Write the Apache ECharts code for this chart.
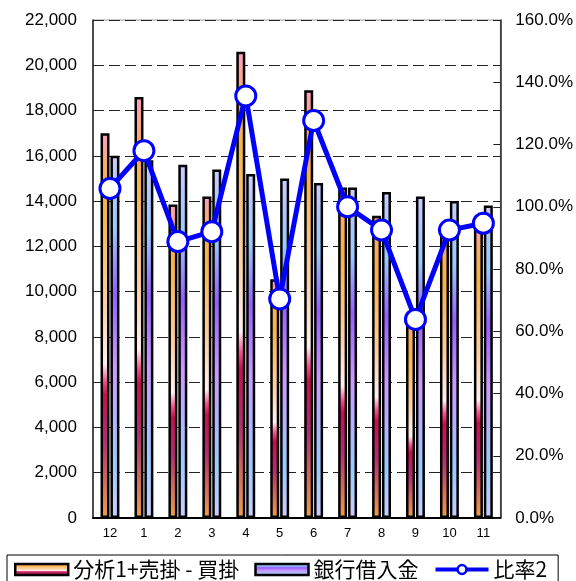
<!DOCTYPE html>
<html lang="ja">

<head>
	<meta charset="UTF-8" />
	<script src="https://cdn.jsdelivr.net/npm/echarts@6/dist/echarts.min.js"></script>
	<title>Chart</title>
	<style>
		html, body { margin: 0; padding: 0; background: #fff; }
		#main { width: 576px; height: 581px; }
	</style>
</head>

<body>
	<div id="main"></div>

	<script type="text/javascript">
		const months = ['12', '1', '2', '3', '4', '5', '6', '7', '8', '9', '10', '11'];
		const analysis = [17000, 18600, 13850, 14200, 20600, 10550, 18900, 14600, 13350, 9050, 12950, 13070];
		const bankLoans = [16000, 15800, 15600, 15400, 15200, 15000, 14800, 14600, 14400, 14200, 14000, 13800];
		const ratio = [105.9, 118.0, 88.8, 92.0, 135.6, 70.4, 127.7, 100.0, 92.5, 63.8, 92.5, 94.7];

		const latin = "'Liberation Sans', Arial, sans-serif";
		const cjk = "'Noto Sans CJK JP', sans-serif";

		const grad = stops => ({
			type: 'linear', x: 0, y: 0, x2: 0, y2: 1,
			colorStops: stops.map(s => ({ offset: s[0], color: s[1] })),
		});
		const orangeFill = grad([
			[0, '#ff9ec4'], [0.1, '#f9ad60'], [0.2, '#f8b24a'], [0.45, '#fdd0a4'],
			[0.6, '#fff0f0'], [0.645, '#f0508c'], [0.68, '#c4104e'], [0.8, '#b02e6e'],
			[0.9, '#d0685e'], [1, '#f0a048'],
		]);
		const blueFill = grad([
			[0, '#ccccff'], [0.12, '#a8c8ff'], [0.2, '#99ccff'], [0.38, '#9660ff'],
			[0.58, '#cc99ff'], [0.85, '#99ccff'], [1, '#ccccff'],
		]);

		const chart = echarts.init(document.getElementById('main'));
		chart.setOption({
			animation: false,
			grid: {
				left: 93, right: 75, top: 20, bottom: 63,
				show: true, borderColor: '#999', borderWidth: 1,
			},
			legend: {
				left: 7, top: 555,
				padding: [4, 11, 8, 7],
				itemWidth: 53, itemHeight: 11, itemGap: 15,
				borderColor: '#000', borderWidth: 1,
				textStyle: { fontFamily: cjk, fontSize: 21, color: '#000' },
				data: [
					{ name: '分析1+売掛 - 買掛', icon: 'rect', itemStyle: { borderColor: '#000', borderWidth: 2.5 } },
					{ name: '銀行借入金', icon: 'rect', itemStyle: { borderColor: '#000', borderWidth: 2.5 } },
					{
						name: '比率2',
						lineStyle: { width: 4 },
						itemStyle: { borderWidth: 2.5 },
					},
				],
			},
			xAxis: {
				type: 'category',
				data: months,
				axisLine: { lineStyle: { color: '#000', width: 2 } },
				axisTick: { inside: true, length: 4, lineStyle: { color: '#333' } },
				axisLabel: { fontFamily: latin, fontSize: 13, color: '#000', margin: 9 },
			},
			yAxis: [
				{
					type: 'value', min: 0, max: 22000, interval: 2000,
					axisLine: { show: true, lineStyle: { color: '#222', width: 1.5 } },
					axisTick: { show: false },
					axisLabel: {
						fontFamily: latin, fontSize: 17, color: '#000', margin: 16,
						formatter: v => v.toLocaleString('en-US'),
					},
					splitLine: { show: true, lineStyle: { color: '#222', type: [11, 5], width: 1 } },
				},
				{
					type: 'value', min: 0, max: 160, interval: 20,
					position: 'right',
					axisLine: { show: true, lineStyle: { color: '#222', width: 1.5 } },
					axisTick: { show: true, inside: true, length: 7, lineStyle: { color: '#222' } },
					axisLabel: {
						fontFamily: latin, fontSize: 17, color: '#000', margin: 15,
						formatter: v => v.toFixed(1) + '%',
					},
					splitLine: { show: false },
				},
			],
			series: [
				{
					name: '分析1+売掛 - 買掛',
					type: 'bar',
					data: analysis,
					barWidth: 9,
					barGap: '10%',
					itemStyle: { color: orangeFill, borderColor: '#000', borderWidth: 2.5 },
				},
				{
					name: '銀行借入金',
					type: 'bar',
					data: bankLoans,
					barWidth: 9,
					itemStyle: { color: blueFill, borderColor: '#000', borderWidth: 2.5 },
				},
				{
					name: '比率2',
					type: 'line',
					yAxisIndex: 1,
					data: ratio,
					symbol: 'circle',
					symbolSize: 20,
					z: 5,
					lineStyle: { color: '#0000ff', width: 5 },
					itemStyle: { color: '#fff', borderColor: '#0000ff', borderWidth: 3 },
				},
			],
		});
	</script>
</body>

</html>
